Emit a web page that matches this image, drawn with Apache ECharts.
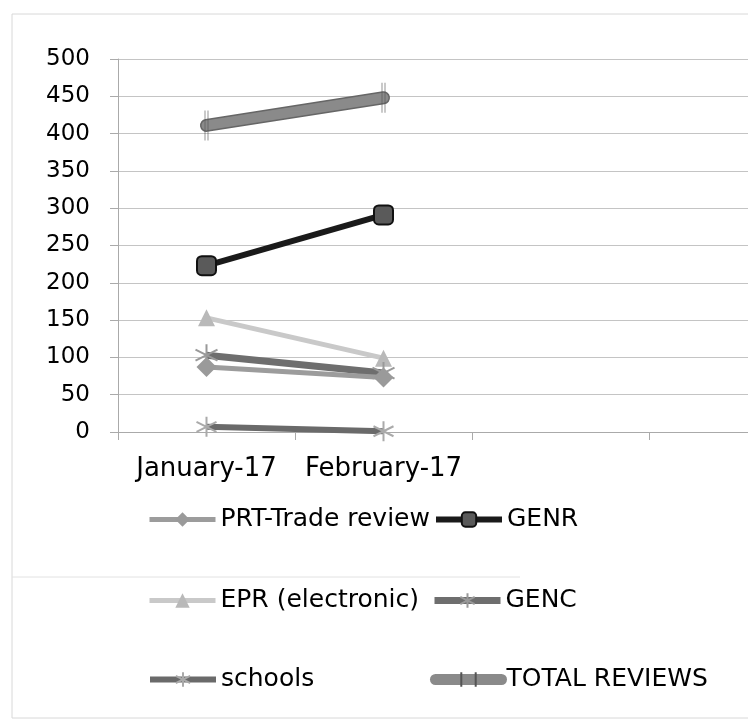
<!DOCTYPE html>
<html>
<head>
<meta charset="utf-8">
<script src="https://cdn.jsdelivr.net/npm/echarts@6/dist/echarts.min.js"></script>
<style>
html,body{margin:0;padding:0;background:#fff;overflow:hidden;width:748px;height:727px;}
#chart{width:826px;height:727px;}
</style>
</head>
<body>
<div id="chart"></div>
<script>
const categories = ['January-17', 'February-17', '', ''];
const yTicks = { min: 0, max: 500, interval: 50 };
const prtTrade = [87, 73];
const genr = [223, 291];
const epr = [153, 99];
const genc = [103, 79];
const schools = [7, 1];
const totalReviews = [411, 448];

const FONT = 'DejaVu Sans';
const asterisk = 'path://M0,-10L0,10M-9,-5L9,5M-9,5L9,-5';
const vbar = 'path://M0,-12L0,12M-1,-12L-1,12';

const chart = echarts.init(document.getElementById('chart'), null, { renderer: 'canvas' });

function legendAt(name, left, top, lw) {
  return {
    data: [name], left: left, top: top, orient: 'horizontal',
    itemWidth: 66, itemHeight: 18, itemGap: 0,
    lineStyle: { width: lw },
    textStyle: { fontFamily: FONT, fontSize: 25, color: '#000' },
    selectedMode: false
  };
}

const option = {
  backgroundColor: '#fff',
  animation: false,
  grid: { left: 118, top: 59, right: 0, bottom: 295, containLabel: false },
  xAxis: {
    type: 'category', data: categories, boundaryGap: true,
    axisLine: { lineStyle: { color: '#aaa', width: 1 } },
    axisTick: { show: true, length: 8, lineStyle: { color: '#aaa' } },
    axisLabel: { fontFamily: FONT, fontSize: 26, color: '#000', margin: 24, interval: 0 },
    splitLine: { show: false }
  },
  yAxis: {
    type: 'value', min: yTicks.min, max: yTicks.max, interval: yTicks.interval,
    axisLine: { show: true, lineStyle: { color: '#aaa' } },
    axisTick: { show: true, length: 8, lineStyle: { color: '#aaa' } },
    axisLabel: { fontFamily: FONT, fontSize: 23, color: '#000', margin: 28 },
    splitLine: { lineStyle: { color: '#c4c4c4', width: 1 } }
  },
  legend: [
    legendAt('PRT-Trade review', 142, 502, 5),
    legendAt('GENR', 428, 502, 6),
    legendAt('EPR (electronic)', 142, 583, 5),
    legendAt('GENC', 426, 583, 7),
    legendAt('schools', 142, 662, 6),
    legendAt('TOTAL REVIEWS', 425, 662, 11)
  ],
  graphic: [
    { type: 'rect', shape: { x: 12, y: 14, width: 760, height: 704 }, style: { fill: 'none', stroke: '#d8d8d8', lineWidth: 1 }, z: -1 },
    { type: 'line', shape: { x1: 12, y1: 577, x2: 520, y2: 577 }, style: { stroke: '#e2e2e2', lineWidth: 1 }, z: -1 }
  ],
  series: [
    {
      name: 'TOTAL REVIEWS outline', type: 'line', data: totalReviews, z: 1,
      lineStyle: { color: '#666', width: 13, cap: 'round' }, symbol: 'none', silent: true
    },
    {
      name: 'TOTAL REVIEWS', type: 'line', data: totalReviews, z: 2,
      lineStyle: { color: '#8a8a8a', width: 10, cap: 'round' },
      itemStyle: { color: '#555', borderColor: '#555', borderWidth: 2 },
      symbol: vbar, symbolSize: [3, 30]
    },
    {
      name: 'GENR', type: 'line', data: genr, z: 3,
      lineStyle: { color: '#1a1a1a', width: 6 },
      itemStyle: { color: '#5a5a5a', borderColor: '#111', borderWidth: 2 },
      symbol: 'roundRect', symbolSize: 19
    },
    {
      name: 'EPR (electronic)', type: 'line', data: epr, z: 3,
      lineStyle: { color: '#c9c9c9', width: 5 },
      itemStyle: { color: '#b9b9b9' },
      symbol: 'triangle', symbolSize: 17
    },
    {
      name: 'GENC', type: 'line', data: genc, z: 4,
      lineStyle: { color: '#6e6e6e', width: 7 },
      itemStyle: { color: '#999', borderColor: '#999', borderWidth: 2 },
      symbol: asterisk, symbolSize: 22
    },
    {
      name: 'PRT-Trade review', type: 'line', data: prtTrade, z: 5,
      lineStyle: { color: '#9c9c9c', width: 5 },
      itemStyle: { color: '#9a9a9a' },
      symbol: 'diamond', symbolSize: 20
    },
    {
      name: 'schools', type: 'line', data: schools, z: 5,
      lineStyle: { color: '#6a6a6a', width: 6 },
      itemStyle: { color: '#aaa', borderColor: '#aaa', borderWidth: 2 },
      symbol: asterisk, symbolSize: 20
    }
  ]
};
chart.setOption(option);
</script>
</body>
</html>
